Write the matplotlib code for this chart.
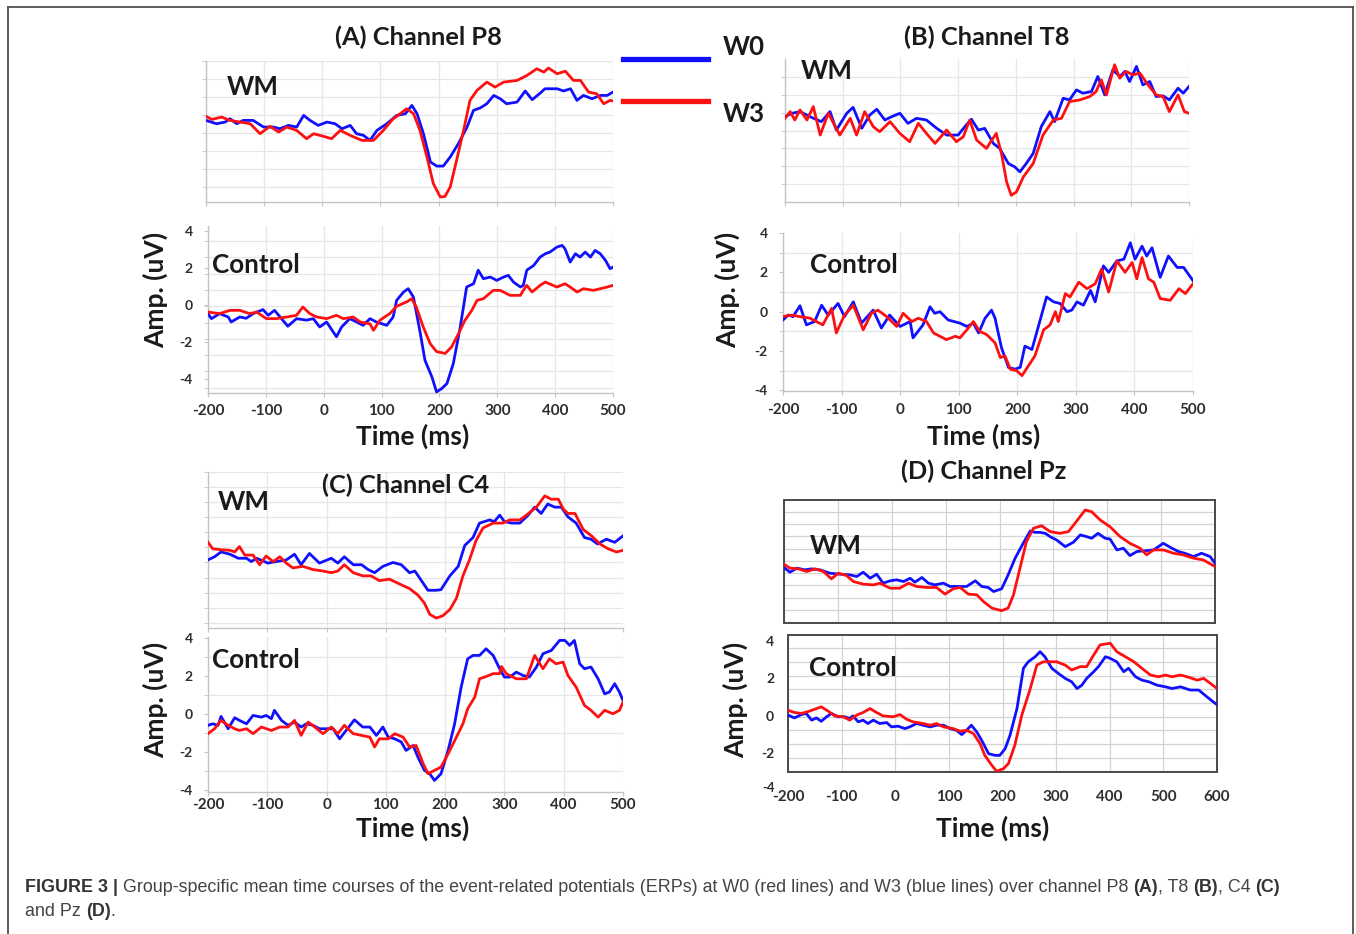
import matplotlib
matplotlib.use("Agg")
import matplotlib.pyplot as plt
from matplotlib.ticker import MultipleLocator, NullFormatter
from matplotlib.lines import Line2D

# ---------------- data (time in ms, amplitude in uV / panel units) ----------------
# (A) Channel P8
P8_WM_W0_T = [-200,-182,-167,-159,-147,-136,-119,-101,-84,-73,-58,-44,-32,-21,-7,8,22,34,48,59,71,82,94,111,128,143,154,163,174,186,197,208,220,234,249,260,272,283,295,306,317,335,349,361,375,383,404,415,427,438,449,464,478,490,500]
P8_WM_W0_V = [0,-0.18,-0.09,0.09,-0.18,0,0,-0.36,-0.36,-0.45,-0.27,-0.36,0.27,0,-0.27,-0.09,-0.18,-0.45,-0.27,-0.72,-0.81,-1.08,-0.54,-0.18,0.27,0.36,0.81,0.36,-0.72,-2.25,-2.47,-2.47,-1.98,-1.26,-0.36,0.54,0.68,0.9,1.35,1.17,0.9,0.99,1.59,1.12,1.48,1.71,1.71,1.59,1.71,1.08,1.35,1.17,1.35,1.35,1.53]
P8_WM_W3_T = [-200,-190,-173,-159,-141,-124,-107,-90,-75,-61,-44,-27,-15,2,16,31,48,68,88,105,122,134,145,157,168,180,191,203,211,220,231,243,254,266,283,297,312,335,352,369,381,389,404,418,432,444,458,472,484,495,500]
P8_WM_W3_V = [0.22,0.05,0.18,0,-0.09,-0.18,-0.72,-0.32,-0.63,-0.36,-0.54,-0.99,-0.72,-0.86,-0.99,-0.54,-0.81,-1.08,-1.08,-0.54,0.09,0.36,0.63,0.36,-0.54,-1.98,-3.42,-4.14,-4.11,-3.6,-2.16,-0.54,1.08,1.62,2.07,1.8,2.07,2.16,2.43,2.79,2.61,2.83,2.52,2.66,2.16,2.16,1.53,1.44,0.9,1.08,1.05]
P8_CT_W0_T = [-200,-194,-180,-165,-160,-145,-134,-122,-105,-96,-85,-73,-62,-47,-30,-18,-7,5,22,31,45,57,68,80,91,109,120,126,138,146,155,166,175,187,195,204,213,224,236,247,259,267,276,288,299,311,319,328,340,345,351,363,374,383,391,403,412,417,426,435,443,452,461,469,478,487,495,500]
P8_CT_W0_V = [-0.45,-0.72,-0.45,-0.63,-0.9,-0.63,-0.7,-0.45,-0.23,-0.54,-0.27,-0.72,-1.13,-0.72,-0.8,-0.72,-1.17,-0.9,-1.7,-1.17,-0.72,-0.9,-1.08,-0.72,-0.9,-1.08,-0.63,0.27,0.72,0.9,0.45,-1.35,-2.97,-3.87,-4.68,-4.5,-4.23,-3.15,-1.17,0.99,1.17,1.9,1.44,1.53,1.35,1.53,1.62,1.26,0.99,1.08,1.9,2.16,2.61,2.79,2.88,3.15,3.24,3.06,2.34,2.79,2.61,2.88,2.61,2.97,2.79,2.43,1.98,2.07]
P8_CT_W3_T = [-200,-180,-162,-145,-128,-116,-99,-82,-64,-47,-36,-24,-12,5,22,34,51,63,80,86,97,114,126,143,152,160,172,184,195,210,221,233,244,256,265,276,293,305,322,340,345,351,360,374,383,403,417,426,438,449,466,478,490,500]
P8_CT_W3_V = [-0.36,-0.45,-0.27,-0.27,-0.45,-0.36,-0.72,-0.72,-0.63,-0.54,-0.09,-0.45,-0.63,-0.72,-0.54,-0.72,-0.63,-0.9,-1.0,-1.35,-0.81,-0.45,-0.05,0.18,0.36,-0.09,-1.17,-2.07,-2.5,-2.6,-2.25,-1.53,-0.81,-0.27,0.27,0.36,0.81,0.81,0.54,0.54,0.81,1.08,0.72,1.08,1.26,0.99,1.17,0.99,0.72,0.9,0.81,0.9,0.99,1.08]

# (B) Channel T8
T8_WM_W0_T = [-200,-188,-174,-157,-137,-122,-111,-93,-82,-67,-53,-41,-27,-15,-1,13,28,45,63,80,100,114,123,135,146,161,172,187,198,207,218,230,244,259,267,282,293,305,316,331,342,354,368,380,389,397,409,420,432,443,455,466,481,490,500]
T8_WM_W0_V = [-0.09,0.09,0.18,-0.09,-0.36,0.18,-0.81,0.09,0.41,-0.72,0,0.31,-0.27,-0.09,0.09,-0.45,-0.18,-0.27,-0.72,-1.08,-1.08,-0.54,-0.23,-0.81,-0.72,-1.53,-1.8,-2.61,-2.79,-3.06,-2.61,-2.07,-0.63,0.18,-0.36,0.9,0.81,1.35,1.17,1.26,2.07,1.08,2.43,2.07,2.34,1.8,2.61,1.62,1.8,0.99,1.03,0.81,1.44,1.17,1.53]
T8_WM_W3_T = [-200,-191,-183,-174,-162,-151,-139,-125,-105,-87,-76,-62,-47,-36,-18,-1,16,31,45,60,80,97,109,120,132,149,166,175,184,192,201,213,230,247,265,279,293,311,328,339,348,357,371,380,391,403,415,429,443,455,466,481,492,500]
T8_WM_W3_V = [-0.18,0.18,-0.27,0.27,-0.27,0.45,-1.08,0.09,-1.08,-0.18,-1.08,0.18,-0.63,-0.9,-0.36,-0.99,-1.44,-0.45,-0.99,-1.53,-0.81,-1.44,-1.17,-0.27,-1.35,-1.8,-0.99,-2.07,-3.6,-4.32,-4.14,-3.33,-2.61,-1.08,-0.27,-0.18,0.72,0.81,0.99,1.26,1.89,1.08,2.7,1.98,2.34,2.16,2.25,1.62,1.08,0.99,0.18,1.08,0.18,0.09]
T8_CT_W0_T = [-200,-191,-183,-171,-160,-146,-134,-123,-106,-95,-80,-66,-46,-32,-18,0,17,22,39,51,59,68,82,102,114,125,134,145,156,162,173,185,196,205,213,225,236,250,262,273,285,293,302,313,325,333,347,356,370,382,393,401,413,421,430,444,458,473,484,500]
T8_CT_W0_V = [-0.42,-0.17,-0.25,0.3,-0.67,-0.5,0.33,-0.17,0.42,-0.25,0.5,-0.58,0.08,-0.83,-0.17,-0.75,-0.5,-1.33,-0.67,0.25,-0.08,0,-0.42,-0.58,-0.75,-0.58,-1.08,-0.33,0.08,-0.33,-1.83,-2.83,-2.92,-2.83,-1.75,-1.92,-0.75,0.75,0.5,0.42,0,0.08,0.5,0.33,1.08,0.5,2.33,2.0,2.58,2.67,3.5,2.67,3.33,2.83,3.25,1.75,2.83,2.25,2.25,1.58]
T8_CT_W3_T = [-200,-186,-171,-154,-132,-117,-109,-95,-80,-63,-49,-38,-23,-6,5,20,31,45,57,79,94,102,114,125,136,148,162,171,179,188,199,208,219,230,245,256,265,270,282,290,305,319,333,344,356,370,384,396,404,413,424,433,444,461,476,487,500]
T8_CT_W3_V = [-0.25,-0.17,-0.25,-0.33,-0.67,0.17,-1.08,-0.17,0.33,-0.92,-0.08,0.08,-0.25,-0.75,-0.08,-0.5,-0.33,-0.5,-1.08,-1.42,-1.25,-1.33,-0.92,-0.5,-1.0,-1.17,-1.58,-2.33,-2.25,-2.92,-3.0,-3.25,-2.75,-2.25,-0.92,-0.67,0,-0.5,0.92,0.75,1.5,1.17,1.42,2.17,1.0,2.58,2.0,2.5,1.67,2.75,1.67,1.5,0.67,0.58,1.17,0.92,1.42]

# (C) Channel C4
C4_WM_W0_T = [-200,-189,-178,-163,-149,-135,-127,-118,-99,-85,-68,-54,-43,-29,-12,8,19,30,45,59,70,81,95,112,126,140,149,160,171,185,193,208,222,233,247,258,275,283,292,300,312,326,340,351,362,373,385,396,407,421,435,446,457,472,486,500]
C4_WM_W0_V = [0.17,0.38,0.7,0.55,0.28,0.28,0.06,0.28,-0.04,0.06,0.17,0.55,-0.15,0.6,-0.04,0.28,-0.04,0.38,-0.15,-0.15,-0.47,-0.68,-0.26,0,-0.15,-0.68,-0.57,-1.21,-1.85,-1.85,-1.81,-0.89,-0.26,1.13,1.66,2.62,2.83,2.72,3.15,2.72,2.62,2.62,3.15,3.68,3.26,3.89,3.68,3.68,3.04,2.62,1.66,1.55,1.23,1.55,1.34,1.77]
C4_WM_W3_T = [-200,-192,-178,-163,-155,-147,-138,-124,-113,-102,-90,-79,-68,-57,-40,-23,-6,8,19,30,45,61,75,89,106,123,140,154,165,174,185,196,208,219,230,241,252,264,281,297,309,326,337,354,368,379,391,399,407,419,433,447,461,475,489,500]
C4_WM_W3_V = [1.34,0.91,0.85,0.81,0.7,1.06,0.49,0.49,-0.15,0.43,0.06,0.38,-0.04,-0.36,-0.26,-0.47,-0.57,-0.68,-0.57,-0.15,-0.68,-0.89,-0.89,-1.21,-1.11,-1.43,-1.74,-2.17,-2.7,-3.45,-3.7,-3.55,-3.13,-2.38,-0.89,0.17,1.45,2.3,2.62,2.62,2.83,2.83,3.15,3.68,4.43,4.21,4.21,3.57,3.26,3.26,2.19,1.77,1.23,0.91,0.7,0.81]
C4_CT_W0_T = [-200,-192,-183,-178,-166,-155,-147,-135,-124,-110,-102,-93,-88,-76,-65,-54,-43,-34,-23,-12,0,11,22,33,47,61,73,84,95,104,115,126,134,146,154,165,174,182,193,205,216,227,238,247,258,269,281,292,300,309,320,331,342,354,365,379,393,402,410,418,427,435,446,458,469,477,486,494,500]
C4_CT_W0_V = [-0.61,-0.53,-0.61,-0.14,-0.79,-0.21,-0.35,-0.53,-0.09,-0.18,-0.09,-0.26,0.18,-0.35,-0.61,-0.44,-0.7,-0.53,-0.61,-0.79,-0.79,-0.79,-1.32,-0.88,-0.32,-0.7,-0.7,-1.14,-0.7,-1.23,-1.32,-1.49,-1.93,-1.67,-2.28,-2.98,-3.16,-3.51,-3.16,-1.93,-0.53,1.4,2.89,3.07,3.07,3.42,3.07,2.37,1.93,1.93,2.19,2.02,1.93,2.46,3.16,3.33,3.86,3.86,3.6,3.86,2.63,2.37,2.46,1.84,1.05,1.14,1.58,1.14,0.7]
C4_CT_W3_T = [-200,-189,-178,-166,-155,-147,-135,-124,-110,-93,-79,-65,-54,-43,-31,-20,-6,8,19,30,45,59,73,81,89,104,115,129,140,151,163,171,182,193,205,219,230,238,250,258,269,281,292,295,303,320,337,351,365,376,387,399,407,421,435,446,458,469,483,494,500]
C4_CT_W3_V = [-1.05,-0.79,-0.35,-0.61,-0.79,-0.88,-0.79,-1.05,-0.7,-0.88,-0.7,-0.7,-0.35,-1.14,-0.44,-0.7,-1.05,-0.7,-1.05,-0.61,-1.05,-1.14,-1.23,-1.75,-1.32,-1.32,-1.05,-1.23,-1.75,-1.67,-2.63,-3.16,-2.98,-2.81,-2.11,-1.23,-0.53,0.26,0.88,1.84,1.96,2.11,2.11,2.49,2.11,1.84,1.84,3.07,2.37,2.89,2.63,2.72,2.02,1.4,0.44,0.18,-0.18,0.18,0,0.18,0.61]

# (D) Channel Pz
PZ_WM_W0_T = [-200,-189,-176,-161,-149,-133,-115,-96,-77,-65,-53,-40,-28,-16,-3,9,22,34,43,56,68,80,96,108,124,139,155,167,179,189,204,216,229,244,257,266,275,285,294,306,322,337,350,362,371,383,396,405,418,430,442,455,467,486,504,520,532,544,560,575,591,600]
PZ_WM_W0_V = [0.46,0.08,0.41,0.27,0.35,0.27,0,-0.08,-0.14,-0.27,0.08,-0.41,-0.08,-0.81,-0.62,-0.54,-0.68,-0.41,-0.73,-0.35,-0.81,-0.95,-0.81,-1.08,-1.08,-1.08,-0.62,-1.08,-1.16,-1.49,-1.27,-0.14,1.22,2.43,3.43,3.32,3.32,3.24,2.97,2.7,2.16,2.51,3.11,2.97,2.84,3.24,2.84,2.78,1.89,2.03,1.43,1.76,1.81,1.89,2.43,2.03,1.76,1.62,1.35,1.62,1.35,0.81]
PZ_WM_W3_T = [-200,-189,-173,-158,-142,-127,-112,-99,-84,-71,-53,-34,-22,-3,15,31,46,65,83,99,114,127,142,158,170,186,204,216,226,238,250,263,278,294,312,328,340,359,371,387,405,424,442,461,473,486,504,523,541,560,578,600]
PZ_WM_W3_V = [0.73,0.41,0.35,0.14,0.35,0.14,-0.46,0,-0.19,-0.68,-0.89,-0.95,-0.81,-1.22,-1.22,-0.81,-1.08,-1.16,-1.16,-1.7,-1.27,-1.16,-1.7,-1.76,-2.3,-2.84,-3.05,-2.84,-1.76,0.41,2.57,3.65,3.86,3.38,3.24,3.38,4.05,5.14,5.0,4.32,3.78,2.97,2.43,2.03,1.49,1.89,1.89,1.62,1.49,1.22,1.08,0.54]
PZ_CT_W0_T = [-200,-188,-175,-166,-156,-147,-138,-128,-119,-107,-94,-85,-79,-69,-60,-51,-41,-29,-16,-7,5,18,27,40,52,65,77,90,102,114,124,133,142,152,161,174,186,195,205,214,227,239,248,261,270,279,292,304,317,329,339,348,357,370,379,392,401,413,426,435,448,460,473,488,504,516,532,550,566,581,597,600]
PZ_CT_W0_V = [0.04,-0.11,0.07,0.13,-0.23,-0.11,-0.29,-0.05,0.13,-0.05,-0.05,-0.14,0,-0.32,-0.23,-0.41,-0.23,-0.41,-0.36,-0.59,-0.55,-0.68,-0.59,-0.41,-0.5,-0.59,-0.5,-0.5,-0.68,-0.77,-1.0,-0.77,-0.5,-0.86,-1.3,-2.02,-2.11,-2.11,-1.75,-1.04,0.39,2.54,2.89,3.16,3.43,3.16,2.54,2.27,2.0,1.82,1.46,1.64,2.0,2.36,2.63,3.16,3.07,2.89,2.36,2.54,2.09,1.91,1.82,1.64,1.55,1.46,1.55,1.38,1.38,1.02,0.66,0.61]
PZ_CT_W3_T = [-200,-188,-175,-160,-147,-138,-125,-113,-97,-85,-72,-60,-47,-35,-23,-4,9,21,33,52,65,77,90,108,121,133,146,158,167,180,189,202,211,223,236,251,264,276,289,301,317,329,345,357,370,382,401,413,429,445,460,476,491,504,516,532,544,563,575,588,600]
PZ_CT_W3_V = [0.3,0.18,0.13,0.25,0.39,0.48,0.25,0,-0.05,-0.23,0.04,0.18,0.39,0.18,0,-0.05,0.07,-0.18,-0.32,-0.41,-0.5,-0.41,-0.59,-0.68,-0.82,-0.77,-0.95,-1.48,-2.11,-2.64,-2.96,-2.82,-2.55,-1.57,0.04,1.38,2.71,2.89,2.89,2.89,2.71,2.45,2.63,2.63,3.25,3.79,3.88,3.43,3.16,2.89,2.54,2.18,2.09,2.18,2.09,2.18,2.09,1.91,2.0,1.73,1.46]

AMP_TICKS = [-4, -2, 0, 2, 4]
PZ_AMP_TICKS = [-2, 0, 2, 4]
X_TICKS = [-200, -100, 0, 100, 200, 300, 400, 500]
PZ_X_TICKS = [-200, -100, 0, 100, 200, 300, 400, 500, 600]
SERIES_NAMES = ["W0", "W3"]
TITLES = ["(A) Channel P8", "(B) Channel T8", "(C) Channel C4", "(D) Channel Pz"]

# ---------------- style ----------------
plt.rcParams["font.family"] = ["Lato", "DejaVu Sans"]
plt.rcParams["font.weight"] = "bold"
plt.rcParams["axes.unicode_minus"] = False
BLUE = "#1010ff"
RED = "#ff1010"
TXT = "#1a1a1a"
TICK = "#2e2e2e"
W, H = 1356, 934

fig = plt.figure(figsize=(W / 100, H / 100), dpi=100)


def rect(x0, y0, x1, y1):
    return [x0 / W, 1 - y1 / H, (x1 - x0) / W, (y1 - y0) / H]


def P(x, y):
    return (x / W, 1 - y / H)


def panel(box, ylim, xlim, xticks, gstep, goff, w0, w3, yticks=None, xlabels=False,
          boxed=False, xpad=6):
    ax = fig.add_axes(rect(*box))
    ax.plot(w0[0], w0[1], color=BLUE, lw=2.0, solid_joinstyle="round", zorder=3)
    ax.plot(w3[0], w3[1], color=RED, lw=2.0, solid_joinstyle="round", zorder=3)
    ax.set_xlim(*xlim)
    ax.set_ylim(*ylim)
    ax.set_xticks(xticks)
    ax.yaxis.set_minor_locator(MultipleLocator(gstep, offset=goff))
    ax.yaxis.set_minor_formatter(NullFormatter())
    ax.set_yticks(yticks if yticks else [])
    gcol = "#d4d4d4" if boxed else "#e6e6e6"
    ax.grid(axis="x", which="major", color=gcol, lw=0.9)
    ax.grid(axis="y", which="minor", color=gcol, lw=0.9)
    ax.set_axisbelow(True)
    if boxed:
        for s in ax.spines.values():
            s.set_color("#4a4a4a")
            s.set_linewidth(1.4)
        ax.tick_params(which="both", length=0)
    else:
        for s in ("top", "right"):
            ax.spines[s].set_visible(False)
        for s in ("left", "bottom"):
            ax.spines[s].set_color("#c4c4c4")
            ax.spines[s].set_linewidth(1.0)
        ax.tick_params(which="both", length=3, color="#c4c4c4")
    ax.tick_params(axis="x", labelbottom=xlabels, labelsize=11, labelcolor=TICK, pad=xpad)
    ax.tick_params(axis="y", labelsize=10, labelcolor=TICK, pad=8 if not boxed else 10)
    for lab in ax.get_xticklabels() + ax.get_yticklabels():
        lab.set_fontweight("bold")
    return ax


# (A)
panel((206, 61, 613, 202), (-4.41, 3.21), (-200, 500), X_TICKS, 0.973, 0.288,
      (P8_WM_W0_T, P8_WM_W0_V), (P8_WM_W3_T, P8_WM_W3_V))
panel((208, 226, 613, 393), (-4.74, 4.29), (-200, 500), X_TICKS, 0.88, -0.05,
      (P8_CT_W0_T, P8_CT_W0_V), (P8_CT_W3_T, P8_CT_W3_V), yticks=AMP_TICKS, xlabels=True,
      xpad=5)
# (B)
panel((785, 59, 1189, 202), (-4.68, 3.01), (-200, 500), X_TICKS, 0.962, 0.126,
      (T8_WM_W0_T, T8_WM_W0_V), (T8_WM_W3_T, T8_WM_W3_V))
panel((783, 233, 1193, 391), (-4.03, 3.83), (-200, 500), X_TICKS, 1.0, 0.0,
      (T8_CT_W0_T, T8_CT_W0_V), (T8_CT_W3_T, T8_CT_W3_V), yticks=AMP_TICKS, xlabels=True,
      xpad=6)
# (C)
panel((208, 472, 623, 628), (-4.36, 6.02), (-200, 500), X_TICKS, 1.0, 0.0,
      (C4_WM_W0_T, C4_WM_W0_V), (C4_WM_W3_T, C4_WM_W3_V))
panel((208, 637, 623, 792), (-4.12, 4.04), (-200, 500), X_TICKS, 1.0, 0.0,
      (C4_CT_W0_T, C4_CT_W0_V), (C4_CT_W3_T, C4_CT_W3_V), yticks=AMP_TICKS, xlabels=True,
      xpad=1.5)
# (D)
panel((784, 500, 1215, 623), (-4.05, 5.95), (-200, 600), PZ_X_TICKS, 1.0, 0.0,
      (PZ_WM_W0_T, PZ_WM_W0_V), (PZ_WM_W3_T, PZ_WM_W3_V), boxed=True)
panel((788, 635, 1217, 772), (-3.0, 4.32), (-200, 600), PZ_X_TICKS, 0.73, -0.05,
      (PZ_CT_W0_T, PZ_CT_W0_V), (PZ_CT_W3_T, PZ_CT_W3_V), yticks=PZ_AMP_TICKS,
      xlabels=True, boxed=True, xpad=13)
fig.text(*P(775, 788), "-4", fontsize=9.5, color=TICK, ha="right", va="center")

# titles
for (x, y), t in zip([(418, 37), (987, 37), (406, 485), (984, 471)], TITLES):
    fig.text(*P(x, y), t, fontsize=18.3, color=TXT, ha="center", va="center")

# group labels
for x, y in [(227, 87), (801, 71), (218, 502), (810, 546)]:
    fig.text(*P(x, y), "WM", fontsize=18.7, color=TXT, ha="left", va="center")
for x, y in [(212, 265), (810, 265), (212, 660), (809, 668)]:
    fig.text(*P(x, y), "Control", fontsize=18.7, color=TXT, ha="left", va="center")

# axis labels
for x, y in [(155, 290), (727, 290), (155, 700), (735, 700)]:
    fig.text(*P(x, y), "Amp. (uV)", fontsize=19, color=TXT, ha="center", va="center",
             rotation=90)
for x, y in [(413, 436), (984, 436), (413, 828), (993, 828)]:
    fig.text(*P(x, y), "Time (ms)", fontsize=19, color=TXT, ha="center", va="center")

# legend
for (y, col, name, ty) in [(59, BLUE, SERIES_NAMES[0], 47), (101, RED, SERIES_NAMES[1], 114)]:
    fig.add_artist(Line2D([623 / W, 708 / W], [1 - y / H, 1 - y / H], color=col, lw=3.8,
                          transform=fig.transFigure))
    fig.text(*P(723, ty), name, fontsize=18.5, color=TXT, ha="left", va="center")

# outer frame (open at the bottom)
for xs, ys in [([8, 1353], [7, 7]), ([8, 8], [7, 934]), ([1353, 1353], [7, 934])]:
    fig.add_artist(Line2D([x / W for x in xs], [1 - y / H for y in ys], color="#505050",
                          lw=1.3, transform=fig.transFigure))

# caption with mixed weights
CAP_FONT = ["Liberation Sans", "DejaVu Sans"]
CAP_SIZE = 12.9
renderer = fig.canvas.get_renderer()


def seg_width(s, weight):
    t = fig.text(0, 0, s, fontsize=CAP_SIZE, family=CAP_FONT, fontweight=weight)
    w = t.get_window_extent(renderer).width
    t.remove()
    return w


space_w = seg_width("x x", "normal") - seg_width("xx", "normal")


def caption_line(x, y, segs):
    for s, wgt, gap in segs:
        t = fig.text(x / W, 1 - y / H, s, fontsize=CAP_SIZE, family=CAP_FONT,
                     fontweight=wgt, color="#333333" if wgt == "bold" else "#444444",
                     ha="left", va="center")
        x += t.get_window_extent(renderer).width + (space_w if gap else 0)


caption_line(25, 887, [
    ("FIGURE 3", "bold", True), ("|", "bold", True),
    ("Group-specific mean time courses of the event-related potentials (ERPs) at W0 "
     "(red lines) and W3 (blue lines) over channel P8", "normal", True),
    ("(A)", "bold", False), (", T8", "normal", True), ("(B)", "bold", False),
    (", C4", "normal", True), ("(C)", "bold", False)])
caption_line(25, 912, [("and Pz", "normal", True), ("(D)", "bold", False), (".", "normal", False)])

fig.savefig("out.png", dpi=100, facecolor="white")
